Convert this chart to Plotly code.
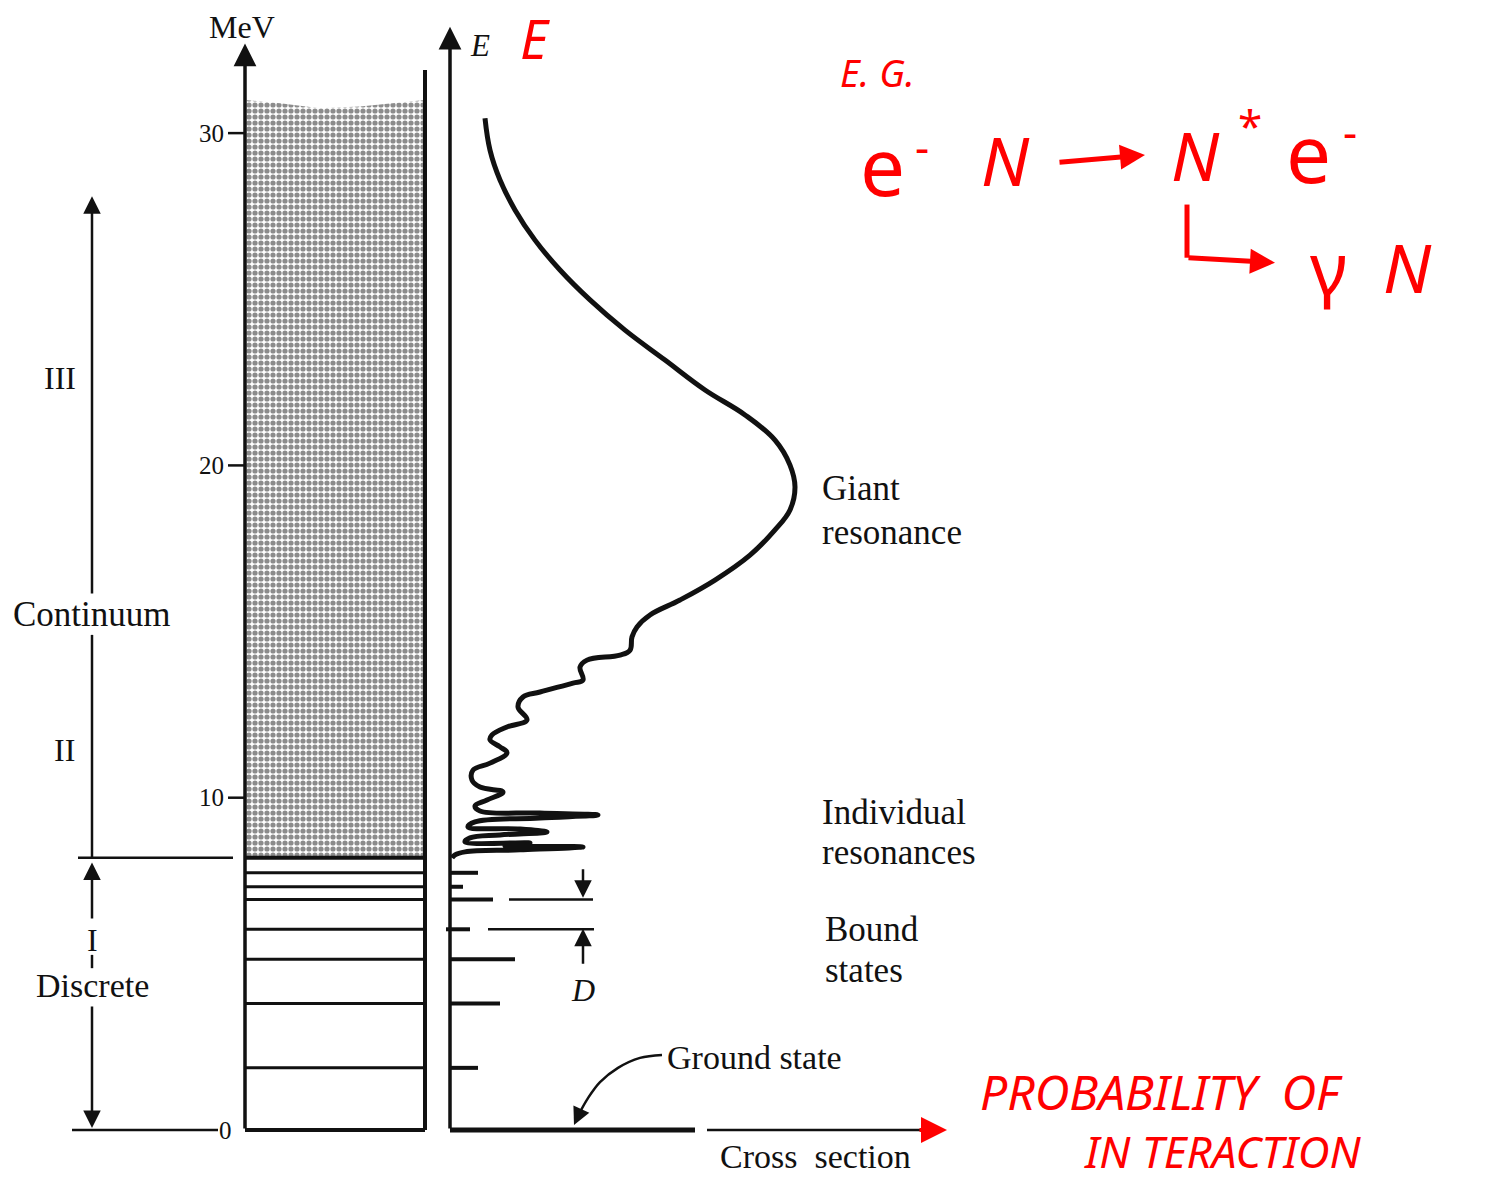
import plotly.graph_objects as go

# ---------------- data (energies in MeV, cross section in arbitrary units) ----------------
tick_values = [0, 10, 20, 30]
tick_labels = ["0", "10", "20", "30"]

level_energies = [0, 1.87, 3.81, 5.14, 6.04, 6.94, 7.32, 7.74]
continuum_threshold = 8.19
continuum_top_cs = [-205, -170, -130, -90, -60, -25]
continuum_top_E = [31.0, 30.9, 30.75, 30.8, 30.9, 31.0]

bound_E = [1.87, 3.81, 5.14, 6.04, 6.94, 7.32, 7.74]
bound_start = [0, 0, 0, -4, 0, 0, 0]
bound_cs = [28, 50, 65, 20, 43, 13, 28]
ground_cs = 245

curve_cs = [35, 40, 50, 65, 85, 110, 140, 175, 215, 255, 295, 325, 340, 345, 340, 325, 300,
            265, 230, 200, 187, 182, 180, 170, 137, 130, 133, 123, 90, 73, 68, 77, 57, 42, 40,
            50, 57, 40, 23, 22, 30, 53, 37, 25, 30, 90, 148, 90, 25, 18, 70, 97, 50, 20, 15,
            80, 55, 133, 70, 15, 5, 2]
curve_E = [30.45, 29.49, 28.59, 27.69, 26.78, 25.88, 24.98, 24.07, 23.17, 22.27, 21.52, 20.76,
           20.01, 19.35, 18.66, 18.06, 17.30, 16.55, 15.95, 15.50, 15.14, 14.84, 14.44, 14.29,
           14.14, 13.93, 13.54, 13.45, 13.18, 13.03, 12.73, 12.34, 12.13, 11.89, 11.74, 11.53,
           11.35, 11.04, 10.83, 10.53, 10.32, 10.17, 9.93, 9.75, 9.60, 9.54, 9.48, 9.39, 9.27,
           9.12, 9.06, 8.97, 8.88, 8.79, 8.67, 8.64, 8.55, 8.52, 8.43, 8.37, 8.28, 8.19]

ground_arrow_cs = [212, 190, 168, 150, 138, 130]
ground_arrow_E = [2.26, 2.17, 1.87, 1.44, 0.96, 0.54]

# ---------------- figure ----------------
W, H = 1489, 1182
BLACK = "#111111"
RED = "#ff0000"
SERIF = "Liberation Serif"
HAND = "Noto Sans"

fig = go.Figure()


def seg(xs, ys, width=3, color=BLACK, dash=None):
    fig.add_trace(go.Scatter(x=xs, y=ys, mode="lines",
                             line=dict(color=color, width=width, dash=dash),
                             hoverinfo="skip", showlegend=False))


def arrow(tail, tip, width=3, color=BLACK, size=1.2, head=2):
    fig.add_annotation(x=tip[0], y=tip[1], ax=tail[0], ay=tail[1], xref="x", yref="y",
                       axref="x", ayref="y", showarrow=True, arrowhead=head,
                       arrowsize=size, arrowwidth=width, arrowcolor=color, text="",
                       standoff=0, startstandoff=0)


def label(x, y, text, size=35, color=BLACK, family=SERIF, xanchor="center", italic=False):
    if italic:
        text = "<i>" + text + "</i>"
    fig.add_annotation(x=x, y=y, xref="x", yref="y", text=text, showarrow=False,
                       font=dict(family=family, size=size, color=color),
                       xanchor=xanchor, yanchor="middle")


BOX_L, BOX_R = -205, -25

# stippled continuum
fig.add_trace(go.Scatter(
    x=[BOX_L] + continuum_top_cs + [BOX_R, BOX_L],
    y=[continuum_threshold] + continuum_top_E + [continuum_threshold, continuum_threshold],
    mode="lines", line=dict(width=0), fill="toself", fillcolor="white",
    fillpattern=dict(shape=".", size=6, solidity=0.6, fgcolor="#1a1a1a", bgcolor="white"),
    hoverinfo="skip", showlegend=False))

# box right edge
seg([BOX_R, BOX_R], [0, 31.9], width=4)
# discrete levels inside box
for e in level_energies:
    seg([BOX_L, BOX_R], [e, e], width=4 if e == 0 else 3)
seg([BOX_L, BOX_R], [continuum_threshold, continuum_threshold], width=4)

# left energy axis with arrow
arrow((BOX_L, 0), (BOX_L, 32.7), width=3.5, size=1.3)
for v, t in zip(tick_values, tick_labels):
    if v > 0:
        seg([-222, BOX_L], [v, v], width=2.5)
        label(-224, v, t, size=25, xanchor="right")
label(-225, 0, "0", size=25, xanchor="center")
label(-208, 33.2, "MeV", size=32)

# separator lines at left
seg([-378, -232], [0, 0], width=2.5)
seg([-372, -217], [continuum_threshold, continuum_threshold], width=2.5)

# region arrows (III / II continuum, I discrete)
seg([-358, -358], [continuum_threshold, 14.9], width=2.5)
arrow((-358, 16.1), (-358, 28.1), width=2.5, size=1.4)
label(-390, 22.63, "III", size=32)
label(-386, 11.44, "II", size=32)
label(-358, 15.50, "Continuum", size=35)
arrow((-358, 6.32), (-358, 8.05), width=2.5, size=1.4)
seg([-358, -358], [5.27, 4.87], width=2.5)
label(-358, 5.72, "I", size=32)
label(-358, 4.36, "Discrete", size=34)
arrow((-358, 3.76), (-358, 0.06), width=2.5, size=1.4)

# right axis E
arrow((0, 0), (0, 33.2), width=3.5, size=1.3)
label(30, 32.65, "E", size=31, italic=True)

# cross-section axis
seg([0, ground_cs], [0, 0], width=5)
seg([257, 480], [0, 0], width=2.5)
arrow((468, 0), (497, 0), width=4, color=RED, size=1.3)
label(268, -0.81, "Cross  section", size=34, xanchor="left")

# bound states bars
for e, s, c in zip(bound_E, bound_start, bound_cs):
    seg([s, c], [e, e], width=4)

# D spacing
seg([59, 143], [bound_E[4], bound_E[4]], width=2.5)
seg([38, 144], [bound_E[3], bound_E[3]], width=2.5)
arrow((133, 7.89), (133, 6.99), width=2.5, size=1.4)
arrow((133, 4.96), (133, 6.06), width=2.5, size=1.4)
label(133, 4.21, "D", size=32, italic=True)

# cross-section curve
fig.add_trace(go.Scatter(x=curve_cs, y=curve_E, mode="lines",
                         line=dict(color=BLACK, width=5, shape="spline", smoothing=1.1),
                         hoverinfo="skip", showlegend=False))

# ground state pointer
fig.add_trace(go.Scatter(x=ground_arrow_cs, y=ground_arrow_E, mode="lines",
                         line=dict(color=BLACK, width=2.5, shape="spline"),
                         hoverinfo="skip", showlegend=False))
arrow((ground_arrow_cs[-1], ground_arrow_E[-1]), (124, 0.15), width=2.5, size=1.4)

# text labels
label(370, 19.32, "Giant", xanchor="left")
label(370, 17.97, "resonance", xanchor="left")
label(370, 9.54, "Individual", xanchor="left")
label(370, 8.34, "resonances", xanchor="left")
label(373, 6.02, "Bound", xanchor="left")
label(373, 4.81, "states", xanchor="left")
label(215, 2.17, "Ground state", size=34, xanchor="left")

# red handwritten annotations
label(85, 32.85, "E", size=54, color=RED, family=HAND, italic=True)
label(388, 31.84, "E. G.", size=38, color=RED, family=HAND, italic=True, xanchor="left")
label(432, 29.05, "e", size=80, color=RED, family=HAND)
label(472, 29.6, "-", size=44, color=RED, family=HAND)
label(555, 29.2, "N", size=68, color=RED, family=HAND, italic=True)
arrow((608, 29.12), (695, 29.34), width=5, color=RED, size=1.0)
label(745, 29.35, "N", size=68, color=RED, family=HAND, italic=True)
label(800, 30.25, "*", size=44, color=RED, family=HAND)
label(858, 29.45, "e", size=80, color=RED, family=HAND)
label(900, 30.05, "-", size=44, color=RED, family=HAND)
seg([737, 737], [27.85, 26.25], width=5, color=RED)
arrow((737, 26.25), (825, 26.1), width=5, color=RED, size=1.0)
label(878, 26.0, "γ", size=72, color=RED, family=HAND)
label(957, 26.0, "N", size=68, color=RED, family=HAND, italic=True)
label(528, 1.15, "PROBABILITY  OF", size=48, color=RED, family=HAND, italic=True, xanchor="left")
label(632, -0.62, "IN TERACTION", size=44, color=RED, family=HAND, italic=True, xanchor="left")

fig.update_layout(
    width=W, height=H, autosize=False,
    margin=dict(l=0, r=0, t=0, b=0),
    paper_bgcolor="white", plot_bgcolor="white",
    xaxis=dict(range=[-450, 1039], visible=False, fixedrange=True),
    yaxis=dict(range=[-1.565, 34.006], visible=False, fixedrange=True),
    showlegend=False,
)

fig.write_html("out.html")
